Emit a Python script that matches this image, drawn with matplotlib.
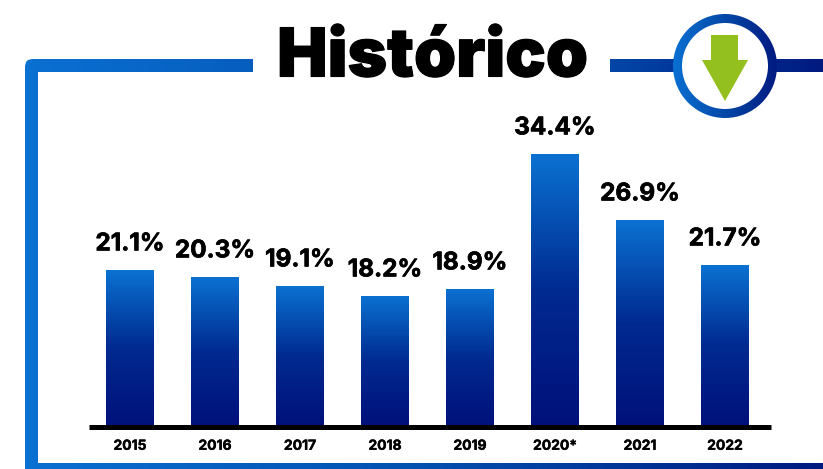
#!/usr/bin/env python3
import numpy as np
import matplotlib
matplotlib.use('Agg')
import matplotlib.pyplot as plt
import matplotlib.patheffects as pe
from matplotlib.colors import LinearSegmentedColormap
from matplotlib.patches import Annulus, Circle, Polygon, Rectangle

years = ['2015', '2016', '2017', '2018', '2019', '2020*', '2021', '2022']
# printed labels; drawn bar heights in the picture are not proportional to them
labels = ['21.1%', '20.3%', '19.1%', '18.2%', '18.9%', '34.4%', '26.9%', '21.7%']
heights = [157, 150, 141, 131, 138, 273, 207, 162]

W, H = 823, 469
bar_cmap = LinearSegmentedColormap.from_list('bar', ['#00107a', '#002a90', '#0b72d2'])
line_cmap = LinearSegmentedColormap.from_list('line', ['#0a70d2', '#0350b0', '#001a80'])
ring_cmap = LinearSegmentedColormap.from_list('ring', ['#0a70d2', '#0448a8', '#001a80'])

plt.rcParams['font.family'] = ['Inter', 'Roboto', 'DejaVu Sans']

fig = plt.figure(figsize=(W / 100, H / 100), dpi=100, facecolor='white')

# overlay in pixel coordinates for the frame and the badge
deco = fig.add_axes([0, 0, 1, 1])
deco.axis('off')


def gradient_fill(ax, patch, extent, cmap, zorder=2):
    ax.add_patch(patch)
    patch.set_facecolor('none')
    patch.set_edgecolor('none')
    grad = np.linspace(0, 1, 256).reshape(1, -1)
    im = ax.imshow(grad, extent=extent, cmap=cmap, aspect='auto', zorder=zorder, vmin=0, vmax=1)
    im.set_clip_path(patch)


# frame with its rounded top-left corner
frame = Polygon([(25, 66), (26, 62), (28, 60), (32, 59), (253, 59), (253, 72), (38, 72),
                 (38, 463), (823, 463), (823, 469), (25, 469)])
gradient_fill(deco, frame, (25, 823, H, 0), line_cmap)
gradient_fill(deco, Rectangle((610, 59), 213, 13), (300, 823, H, 0), line_cmap)

# badge
deco.add_patch(Circle((725, 66), 47, fc='white', ec='none', zorder=3))
gradient_fill(deco, Annulus((725, 66), 52, 9), (673, 777, H, 0), ring_cmap, zorder=4)
deco.add_patch(Polygon([(711, 35), (738, 35), (738, 60), (748, 60), (725, 101), (702, 60), (711, 60)],
                       fc='#93bf1f', ec='none', zorder=5))
deco.set_xlim(0, W)
deco.set_ylim(H, 0)

deco.text(432.5, 59, 'Histórico', fontsize=48.5, fontweight='black', ha='center', va='center',
          color='black', zorder=6, path_effects=[pe.withStroke(linewidth=0.8, foreground='black')])

# bars
ax = fig.add_axes([0, 1 - 429 / H, 1, 429 / H])
ax.patch.set_alpha(0)
xs = np.arange(len(years))
width = 48 / 85
bars = ax.bar(xs, heights, width=width, color='none', zorder=2)
for b in bars:
    x0 = b.get_x()
    im = ax.imshow(np.linspace(0, 1, 256).reshape(-1, 1), extent=(x0, x0 + width, 0, b.get_height()),
                   origin='lower', cmap=bar_cmap, aspect='auto', zorder=2)
    im.set_clip_path(b)
ax.set_xlim(-130 / 85, (W - 130) / 85)
ax.set_ylim(-2, 427)

for x, h, t in zip(xs, heights, labels):
    ax.annotate(t, (x, h), xytext=(0, 18.8), textcoords='offset points', ha='center', va='center',
                fontsize=17.5, fontweight='bold', color='black',
                path_effects=[pe.withStroke(linewidth=0.5, foreground='black')])
for x, y in zip(xs, years):
    ax.annotate(y, (x, 0), xytext=(0, -13.5), textcoords='offset points', ha='center', va='center',
                fontsize=10, fontweight='bold', color='black',
                path_effects=[pe.withStroke(linewidth=0.3, foreground='black')])

ax.axis('off')
ax.plot([-41 / 85, (771 - 130) / 85], [0, 0], color='black', lw=3.6, solid_capstyle='butt', zorder=3, clip_on=False)

fig.savefig('out.png', dpi=100, facecolor='white')
